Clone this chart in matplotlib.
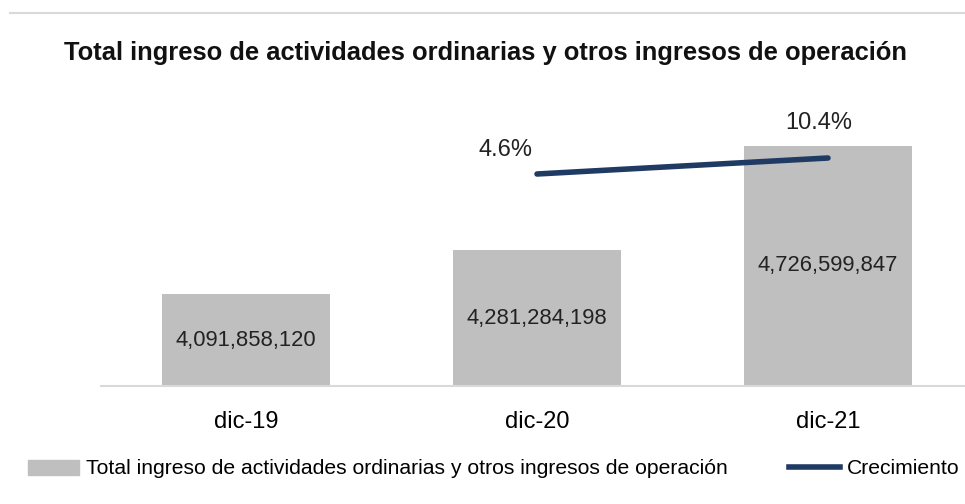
import matplotlib
matplotlib.use("Agg")
import matplotlib.pyplot as plt
from matplotlib.lines import Line2D
from matplotlib.patches import Patch

categories = ["dic-19", "dic-20", "dic-21"]
ingresos = [4091858120, 4281284198, 4726599847]
crec_cats = ["dic-20", "dic-21"]
crecimiento = [4.6, 10.4]

title = "Total ingreso de actividades ordinarias y otros ingresos de operación"
bar_label = "Total ingreso de actividades ordinarias y otros ingresos de operación"
line_label = "Crecimiento"

BAR_COLOR = "#BFBFBF"
LINE_COLOR = "#1F3A63"

plt.rcParams["font.family"] = ["Liberation Sans", "DejaVu Sans"]

W, H = 965, 504
fig = plt.figure(figsize=(W / 100, H / 100), dpi=100)

# plot area in pixels: x 100.5..973.5, y 100..386
left, right, top, bottom = 100.5, 973.5, 100, 386
ax = fig.add_axes([left / W, 1 - bottom / H, (right - left) / W, (bottom - top) / H])

x = list(range(len(categories)))
ax.bar(x, ingresos, width=0.58, color=BAR_COLOR, zorder=2)
ax.set_xlim(-0.5, 2.5)
ax.set_ylim(3.7e9, 3.7e9 + 286 / 233.8 * 1e9)

for xi, v in zip(x, ingresos):
    ax.text(xi, 3.7e9 + (v - 3.7e9) / 2, f"{v:,}", ha="center", va="center",
            fontsize=15.8, color="#222222", zorder=3)

ax.set_xticks(x)
ax.set_xticklabels(categories, fontsize=17)
ax.tick_params(axis="x", length=0, pad=18)
ax.set_yticks([])
for s in ["top", "right", "left"]:
    ax.spines[s].set_visible(False)
ax.spines["bottom"].set_color("#D9D9D9")
ax.spines["bottom"].set_linewidth(1.5)

ax2 = ax.twinx()
px_per_pct = 16 / 5.8
lo = 4.6 - 212 / px_per_pct
ax2.set_ylim(lo, lo + 286 / px_per_pct)
cx = [categories.index(c) for c in crec_cats]
ax2.plot(cx, crecimiento, color=LINE_COLOR, lw=4, solid_capstyle="round", zorder=4)
offsets = [(-23, 17), (-7, 25)]
for xi, v, off in zip(cx, crecimiento, offsets):
    ax2.annotate(f"{v}%", (xi, v), xytext=off, textcoords="offset points",
                 ha="center", va="center", fontsize=17, color="#222222")
ax2.set_yticks([])
for s in ["top", "right", "left", "bottom"]:
    ax2.spines[s].set_visible(False)

fig.text(485 / W, 1 - 53 / H, title, ha="center", va="center",
         fontsize=18.4, fontweight="bold", color="#111111")

# top separator line
fig.add_artist(Line2D([10 / W, 1], [1 - 13 / H, 1 - 13 / H], color="#D9D9D9", lw=1.5))

handles = [Patch(color=BAR_COLOR), Line2D([0], [0], color=LINE_COLOR, lw=4)]
fig.legend(handles, [bar_label, line_label], loc="center", bbox_to_anchor=(494 / W, 1 - 469 / H),
           ncol=2, frameon=False, fontsize=15.2, handlelength=2.4, handletextpad=0.35,
           columnspacing=2.9)

fig.savefig("out.png", dpi=100)
